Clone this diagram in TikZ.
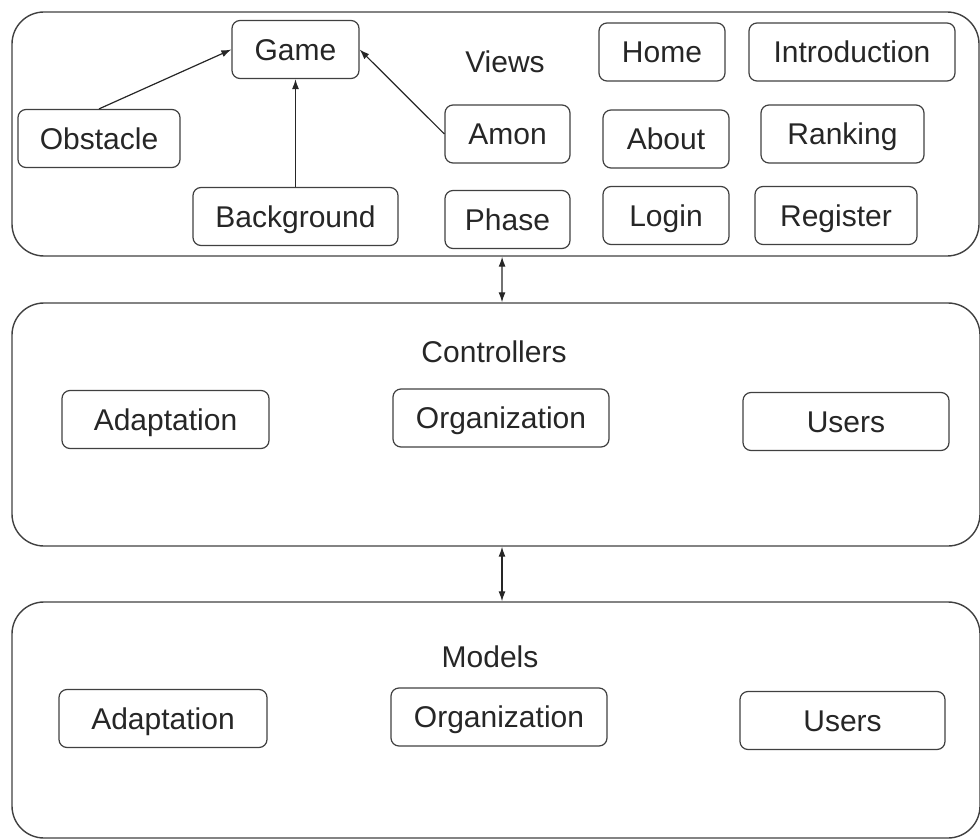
\documentclass[tikz,border=0pt]{standalone}
\usepackage{fontspec}
\setmainfont{Liberation Sans}
\usetikzlibrary{arrows.meta}

\begin{document}
\begin{tikzpicture}[x=0.5pt,y=-0.5pt,
    font=\fontsize{15}{18}\selectfont,
    layer/.style={draw=black!75, line width=0.7pt, rounded corners=16pt},
    comp/.style={draw=black!75, line width=0.6pt, rounded corners=4pt,
        minimum height=29pt, text height=10.7pt, text depth=0pt, text=black!85},
    title/.style={text=black!85, text height=10.7pt, text depth=0pt},
    link/.style={-{Latex[length=5pt,width=3.5pt]}, black!85, line width=0.6pt},
    twoway/.style={{Latex[length=5pt,width=3.5pt]}-{Latex[length=5pt,width=3.5pt]}, black!85, line width=0.6pt}]
    \useasboundingbox (0,0) rectangle (980,840);

    % Views
    \node[layer, minimum width=483.5pt, minimum height=122pt] (views) at (495.5,134) {};
    \node[title] (viewslbl) at (505,62) {Views};
    \node[comp, minimum width=63.5pt] (game) at (295.5,49.5) {Game};
    \node[comp, minimum width=81pt] (obstacle) at (99,138.5) {Obstacle};
    \node[comp, minimum width=102.5pt] (background) at (295.5,216.5) {Background};
    \node[comp, minimum width=62.5pt] (amon) at (507.5,134) {Amon};
    \node[comp, minimum width=62.5pt] (phase) at (507.5,219.5) {Phase};
    \node[comp, minimum width=63pt] (home) at (662,52) {Home};
    \node[comp, minimum width=103pt] (intro) at (852,52) {Introduction};
    \node[comp, minimum width=63pt] (about) at (666,139) {About};
    \node[comp, minimum width=81.5pt] (ranking) at (842.5,134) {Ranking};
    \node[comp, minimum width=63pt] (login) at (666,215.5) {Login};
    \node[comp, minimum width=81pt] (register) at (836,215.5) {Register};

    % Ligacoes com Game
    \draw[link] (obstacle.north) -- (game.west);
    \draw[link] (background.north) -- (game.south);
    \draw[link] (amon.west) -- (game.east);

    % Controllers
    \node[layer, minimum width=484pt, minimum height=121.5pt] (ctrl) at (496,424.5) {};
    \node[title] (ctrllbl) at (494,352) {Controllers};
    \node[comp, minimum width=103.5pt] (cadapt) at (165.5,419.5) {Adaptation};
    \node[comp, minimum width=108pt] (corg) at (501,418) {Organization};
    \node[comp, minimum width=103pt] (cusers) at (846,421.5) {Users};

    % Models
    \node[layer, minimum width=484pt, minimum height=118pt] (models) at (496,720) {};
    \node[title] (modelslbl) at (490,657) {Models};
    \node[comp, minimum width=104pt] (madapt) at (163,718.5) {Adaptation};
    \node[comp, minimum width=108pt] (morg) at (499,717) {Organization};
    \node[comp, minimum width=102.5pt] (musers) at (842.5,720.5) {Users};

    % Camadas
    \draw[twoway] ([xshift=3.3pt]views.south) -- ([xshift=3pt]ctrl.north);
    \draw[twoway] ([xshift=3pt]ctrl.south) -- ([xshift=3pt]models.north);
\end{tikzpicture}
\end{document}
